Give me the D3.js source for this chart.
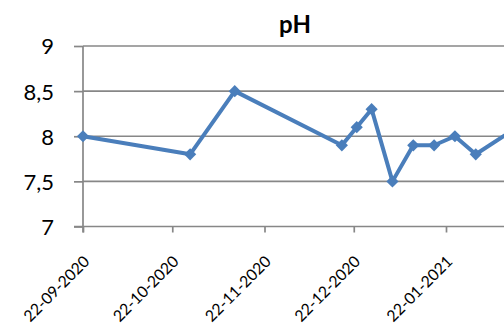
<!DOCTYPE html>
<html><head><meta charset="utf-8">
<script src="https://cdn.jsdelivr.net/npm/d3@7/dist/d3.min.js"></script>
<style>body{margin:0;background:#fff}svg{display:block}</style>
</head><body>
<script>
const dates = ["2020-09-22","2020-10-28","2020-11-12","2020-12-18","2020-12-23","2020-12-28","2021-01-04","2021-01-11","2021-01-18","2021-01-25","2021-02-01","2021-02-15"];
const phValues = [8.0,7.8,8.5,7.9,8.1,8.3,7.5,7.9,7.9,8.0,7.8,8.1];
const xTickDates = ["2020-09-22","2020-10-22","2020-11-22","2020-12-22","2021-01-22"];
const yTicks = [7,7.5,8,8.5,9];
const title = "pH";

const W=504,H=325;
const parse = d3.utcParse("%Y-%m-%d");
const fmt = d3.utcFormat("%d-%m-%Y");
const svg = d3.select("body").append("svg").attr("width",W).attr("height",H);

const x = d3.scaleUtc().domain([parse("2020-09-22"),parse("2021-01-22")]).range([83,446]);
const y = d3.scaleLinear().domain([7,9]).range([226.5,46]);
const right = 560;
const grey = "#878787";

// gridlines
svg.append("g").selectAll("line").data(yTicks.filter(v=>v>7)).join("line")
  .attr("x1",x.range()[0]).attr("x2",right)
  .attr("y1",d=>y(d)).attr("y2",d=>y(d))
  .attr("stroke",grey).attr("stroke-width",1.7);

// y axis
const ya = svg.append("g").attr("transform",`translate(${x.range()[0]},0)`)
  .call(d3.axisLeft(y).tickValues(yTicks).tickSize(9).tickPadding(20)
    .tickFormat(d=>String(d).replace(".",",")));
ya.select(".domain").remove();
ya.selectAll(".tick line").attr("stroke",grey).attr("stroke-width",1.7);
ya.selectAll("text").attr("font-family","Lato").attr("font-size",22).attr("fill","#000").attr("dy","0.36em");
svg.append("line").attr("x1",x.range()[0]).attr("x2",x.range()[0])
  .attr("y1",y(9)).attr("y2",y(7)+6).attr("stroke",grey).attr("stroke-width",1.7);

// x axis
const xa = svg.append("g").attr("transform",`translate(0,${y(7)})`)
  .call(d3.axisBottom(x).tickValues(xTickDates.map(parse)).tickSize(6).tickFormat(fmt));
xa.select(".domain").remove();
xa.selectAll(".tick line").attr("stroke",grey).attr("stroke-width",1.7);
xa.selectAll("text").attr("font-family","Lato").attr("font-size",15.8).attr("fill","#000")
  .attr("text-anchor","end").attr("dy",0).attr("y",0)
  .attr("transform","translate(7,36) rotate(-45)");
svg.append("line").attr("x1",x.range()[0]-9).attr("x2",right)
  .attr("y1",y(7)).attr("y2",y(7)).attr("stroke",grey).attr("stroke-width",1.7);

// line
const data = dates.map((d,i)=>({d:parse(d),v:phValues[i]}));
svg.append("path").datum(data)
  .attr("d",d3.line().x(d=>x(d.d)).y(d=>y(d.v)))
  .attr("fill","none").attr("stroke","#4a7ebb").attr("stroke-width",4).attr("stroke-linejoin","round");
svg.append("g").selectAll("path").data(data).join("path")
  .attr("d",d3.symbol(d3.symbolDiamond2,95)())
  .attr("transform",d=>`translate(${x(d.d)},${y(d.v)})`)
  .attr("fill","#4a7ebb");

svg.append("text").attr("x",295).attr("y",32.5).attr("text-anchor","middle")
  .attr("font-family","Lato").attr("font-weight","bold").attr("font-size",24).text(title);
</script>
</body></html>
